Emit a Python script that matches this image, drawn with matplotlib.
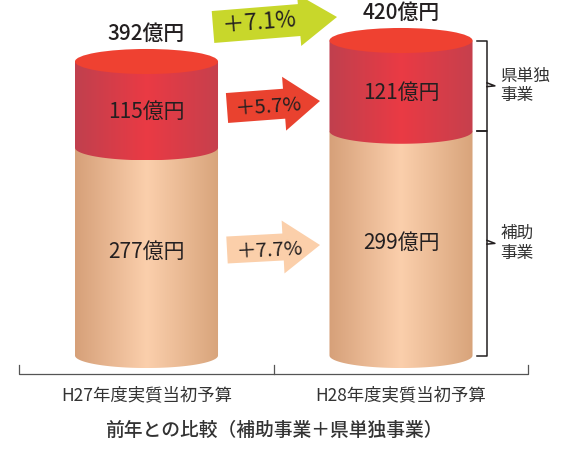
import numpy as np
import matplotlib.pyplot as plt
from matplotlib.colors import LinearSegmentedColormap
from matplotlib.patches import Ellipse, FancyArrow, PathPatch
from matplotlib.path import Path
from matplotlib.transforms import Affine2D

plt.rcParams['font.family'] = ['Noto Sans CJK JP', 'DejaVu Sans']

# data (億円)
years = ['H27年度実質当初予算', 'H28年度実質当初予算']
hojo = [277, 299]        # 補助事業
kentan = [115, 121]      # 県単独事業
totals = [392, 420]
growth = ['＋7.1%', '＋5.7%', '＋7.7%']   # 合計, 県単独, 補助
unit = '億円'
title = '前年との比較（補助事業＋県単独事業）'

W, H = 581, 449
fig = plt.figure(figsize=(W / 100, H / 100), dpi=100)
ax = fig.add_axes([0, 0, 1, 1])
ax.axis('off')

# pixel transform (origin top-left) for the decorative arrows
pix = Affine2D().scale(1 / W, -1 / H).translate(0, 1) + fig.transFigure

a = 0.281   # half width of cylinder (x units)
b = 16.7    # half height of ellipse (value units)

red_cmap = LinearSegmentedColormap.from_list('r', ['#c0404e', '#ea3a44', '#c6404d'])
tan_cmap = LinearSegmentedColormap.from_list('t', ['#d6a079', '#fbcfac', '#d8a47b'])
grad = np.linspace(0, 1, 256)[None, :]


def segment(xc, y0, y1, cmap):
    th = np.linspace(np.pi, 2 * np.pi, 60)
    verts = [(xc - a, y1), (xc - a, y0)]
    verts += list(zip(xc + a * np.cos(th), y0 + b * np.sin(th)))
    verts += [(xc + a, y1), (xc - a, y1)]
    patch = PathPatch(Path(verts), fc='none', ec='none')
    ax.add_patch(patch)
    im = ax.imshow(grad, cmap=cmap, aspect='auto', interpolation='bilinear',
                   extent=(xc - a, xc + a, y0 - b, y1), zorder=2)
    im.set_clip_path(patch)


for i in range(2):
    segment(i, 0, hojo[i], tan_cmap)
    segment(i, hojo[i], totals[i], red_cmap)
    ax.add_patch(Ellipse((i, totals[i]), 2 * a, 2 * b, fc='#ef4131', ec='none', zorder=3))
    ax.annotate(f'{kentan[i]}{unit}', (i, hojo[i] + kentan[i] / 2), xytext=(0, -7),
                textcoords='offset pixels', ha='center', va='center', fontsize=15,
                color='#231f20', zorder=5)
    ax.annotate(f'{hojo[i]}{unit}', (i, hojo[i] / 2), xytext=(0, 0),
                textcoords='offset pixels', ha='center', va='center', fontsize=15,
                color='#231f20', zorder=5)
    ax.annotate(f'{totals[i]}{unit}', (i, totals[i]), xytext=(0, 28),
                textcoords='offset pixels', ha='center', va='center', fontsize=15,
                fontweight='medium', color='#231f20', zorder=5)
    ax.text(i, -52.7, years[i], ha='center', va='center', fontsize=12.5, color='#333333')

ax.text(0.5, -99.5, title, ha='center', va='center', fontsize=13.5,
        fontweight='medium', color='#333333')

# arrows: (tail x, tail y, tip x, tip y, width, head width, head length, colour)
arrows = [(213, 27, 337, 17, 32, 52, 38, '#c8d72b'),
          (227, 108, 320, 101, 30, 54, 36, '#e9422f'),
          (227, 250, 320, 245, 27, 53, 37, '#fbcfaa')]
text_pos = [(259, 23, 16), (268, 107, 14.5), (269, 251, 14.5)]
for (x0, y0, x1, y1, w, hw, hl, c), lab, (tx, ty, fs) in zip(arrows, growth, text_pos):
    ax.add_patch(FancyArrow(x0, y0, x1 - x0, y1 - y0, width=w, head_width=hw,
                            head_length=hl, length_includes_head=True,
                            transform=pix, color=c, lw=0, zorder=4))
    ax.text(tx, ty, lab, transform=pix, ha='center', va='center', fontsize=fs,
            rotation=np.degrees(np.arctan2(y0 - y1, x1 - x0)), color='#231f20', zorder=5)

# brackets
ax.plot([-0.5, -0.5, 1.5, 1.5], [-12.7, -24.7, -24.7, -12.7], color='#555555', lw=0.9)
ax.plot([0.5, 0.5], [-12.7, -24.7], color='#555555', lw=0.9)

xb, xt, xp = 1.338, 1.299, 1.369
side = [('県単独\n事業', totals[1], hojo[1]), ('補助\n事業', hojo[1], 0)]
for lab, top, bot in side:
    mid = (top + bot) / 2
    ax.plot([xt, xb, xb, xt], [top, top, bot, bot], color='#231f20', lw=1.1)
    ax.plot([xb, xp, xb], [mid + 4, mid, mid - 1], color='#231f20', lw=1.1)
    ax.text(xp + 0.022, mid, lab, ha='left', va='center', fontsize=12,
            color='#333333', linespacing=1.2)

ax.set_xlim(-146.5 / 254.5, (W - 146.5) / 254.5)
ax.set_ylim(-(H - 355.5) / 0.75, 355.5 / 0.75)

fig.savefig('out.png', dpi=100)
